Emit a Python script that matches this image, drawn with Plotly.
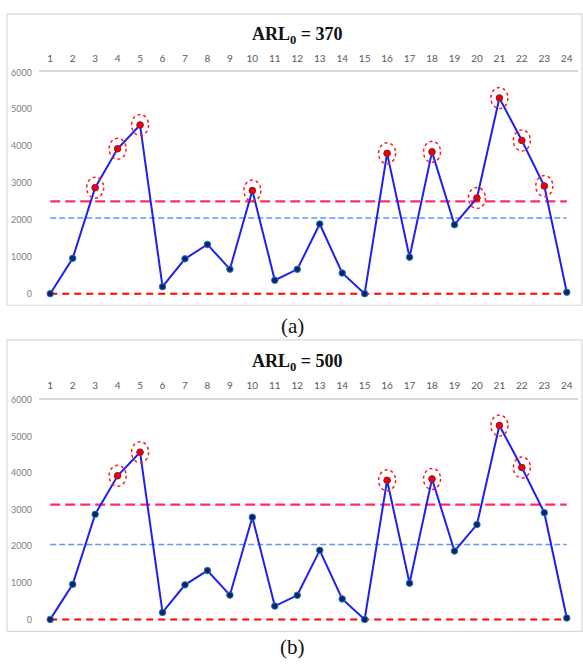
import plotly.graph_objects as go

# ---- data ----
samples = list(range(1, 25))
tick_labels = [str(s) for s in samples]
values = [0, 960, 2875, 3930, 4575, 190, 945, 1335, 665, 2795, 365, 660,
          1890, 560, 0, 3805, 990, 3845, 1870, 2595, 5305, 4155, 2920, 40]
arl_labels = ["370", "500"]
ucl = [2500, 3140]
center_line = 2050
lcl = 0
panel_tags = ["(a)", "(b)"]
y_ticks = [0, 1000, 2000, 3000, 4000, 5000, 6000]

W, H = 583, 664
Y_MIN, Y_MAX = -200, 6000


def py(px):
    return 1 - px / H


def pxx(px):
    return px / W


# pixel layout for each panel: frame top, axis top, zero line, frame bottom, title y, tag y
panels = [
    dict(frame_top=8, axis_top=67, zero=290.3, frame_bot=302, title_y=30, tag_y=323),
    dict(frame_top=337, axis_top=397.7, zero=619, frame_bot=631, title_y=360, tag_y=647),
]

fig = go.Figure()
shapes = []
annotations = []
layout_axes = {}

for i, p in enumerate(panels):
    xa = "x" if i == 0 else f"x{i+1}"
    ya = "y" if i == 0 else f"y{i+1}"
    xkey = "xaxis" if i == 0 else f"xaxis{i+1}"
    ykey = "yaxis" if i == 0 else f"yaxis{i+1}"

    scale = (p["zero"] - p["axis_top"]) / Y_MAX
    bottom_px = p["zero"] - Y_MIN * scale

    # control limits
    fig.add_trace(go.Scatter(x=[samples[0], samples[-1]], y=[ucl[i], ucl[i]], mode="lines",
                             line=dict(color="#ff2a6a", width=2.3, dash="10px,5px"),
                             xaxis=xa, yaxis=ya, showlegend=False, hoverinfo="skip", cliponaxis=False))
    fig.add_trace(go.Scatter(x=[samples[0], samples[-1]], y=[center_line, center_line], mode="lines",
                             line=dict(color="#5b9bf0", width=1.6, dash="6px,3px"),
                             xaxis=xa, yaxis=ya, showlegend=False, hoverinfo="skip", cliponaxis=False))
    fig.add_trace(go.Scatter(x=[samples[0], samples[-1]], y=[lcl, lcl], mode="lines",
                             line=dict(color="#ff0000", width=2, dash="7px,5px"),
                             xaxis=xa, yaxis=ya, showlegend=False, hoverinfo="skip", cliponaxis=False))

    # main series
    fig.add_trace(go.Scatter(x=samples, y=values, mode="lines+markers",
                             line=dict(color="#1f1ff0", width=2),
                             marker=dict(size=6.5, color="#0b2760", line=dict(color="#2a72d0", width=1)),
                             xaxis=xa, yaxis=ya, showlegend=False, cliponaxis=False))

    flagged_x = [s for s, v in zip(samples, values) if v > ucl[i]]
    flagged_y = [v for v in values if v > ucl[i]]
    fig.add_trace(go.Scatter(x=flagged_x, y=flagged_y, mode="markers",
                             marker=dict(size=6.5, color="#e8000b", line=dict(color="#c00000", width=0.5)),
                             xaxis=xa, yaxis=ya, showlegend=False, cliponaxis=False))

    for fx, fy in zip(flagged_x, flagged_y):
        shapes.append(dict(type="circle", xref=xa, yref=ya, xsizemode="pixel", ysizemode="pixel",
                           xanchor=fx, yanchor=fy, x0=-8.5, x1=8.5, y0=-10.5, y1=10.5,
                           line=dict(color="#ff1a1a", width=1.5, dash="dot")))

    # frame
    shapes.append(dict(type="rect", xref="paper", yref="paper",
                       x0=pxx(7), x1=pxx(582), y0=py(p["frame_bot"]), y1=py(p["frame_top"]),
                       line=dict(color="#d9d9d9", width=1.2), layer="below"))

    layout_axes[xkey] = dict(domain=[pxx(39), pxx(578)], range=[0.5, 24.5], side="top",
                             anchor=ya, tickmode="array", tickvals=samples, ticktext=tick_labels,
                             showline=True, linecolor="#d9d9d9", linewidth=1.5, showgrid=False,
                             zeroline=False, ticks="", ticklabelstandoff=5,
                             tickfont=dict(family="Lato, Liberation Sans, sans-serif", size=10, color="#595959"),
                             fixedrange=True)
    layout_axes[ykey] = dict(domain=[py(bottom_px), py(p["axis_top"])], range=[Y_MIN, Y_MAX],
                             anchor=xa, tickmode="array", tickvals=y_ticks,
                             ticktext=[str(t) for t in y_ticks],
                             showline=False, showgrid=False, zeroline=False, ticks="",
                             ticklabelstandoff=6,
                             tickfont=dict(family="Lato, Liberation Sans, sans-serif", size=9, color="#808080"),
                             fixedrange=True)

    annotations.append(dict(text=f"<b>ARL<sub>0</sub> = {arl_labels[i]}</b>", xref="paper", yref="paper",
                            x=pxx(297), y=py(p["title_y"]), xanchor="center", yanchor="middle",
                            showarrow=False,
                            font=dict(family="Liberation Serif, Times New Roman, serif", size=18, color="#111111")))
    annotations.append(dict(text=panel_tags[i], xref="paper", yref="paper",
                            x=pxx(292), y=py(p["tag_y"]), xanchor="center", yanchor="middle",
                            showarrow=False,
                            font=dict(family="Liberation Serif, Times New Roman, serif", size=21, color="#111111")))

fig.update_layout(width=W, height=H, margin=dict(l=0, r=0, t=0, b=0),
                  paper_bgcolor="white", plot_bgcolor="white",
                  shapes=shapes, annotations=annotations, **layout_axes)

fig.write_html("out.html", config={"displayModeBar": False},
               post_script="document.body.style.margin='0';document.body.style.overflow='hidden';")
